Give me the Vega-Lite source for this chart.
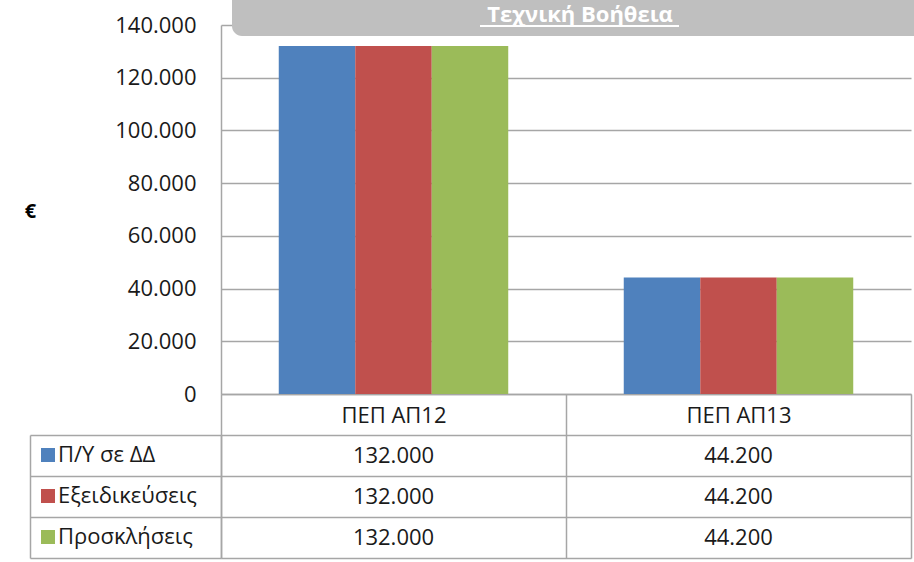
{
  "$schema": "https://vega.github.io/schema/vega-lite/v6.json",
  "autosize": {"type": "none"},
  "padding": {"left": 221, "top": 25, "right": 693, "bottom": 537},
  "background": "white",
  "datasets": {
    "budget": [
      {"cat": "ΠΕΠ ΑΠ12", "series": "Π/Υ σε ΔΔ", "value": 132000},
      {"cat": "ΠΕΠ ΑΠ12", "series": "Εξειδικεύσεις", "value": 132000},
      {"cat": "ΠΕΠ ΑΠ12", "series": "Προσκλήσεις", "value": 132000},
      {"cat": "ΠΕΠ ΑΠ13", "series": "Π/Υ σε ΔΔ", "value": 44200},
      {"cat": "ΠΕΠ ΑΠ13", "series": "Εξειδικεύσεις", "value": 44200},
      {"cat": "ΠΕΠ ΑΠ13", "series": "Προσκλήσεις", "value": 44200}
    ],
    "heading": [{"title": "Τεχνική Βοήθεια"}]
  },
  "config": {
    "view": {"stroke": null},
    "locale": {"number": {"decimal": ",", "thousands": ".", "grouping": [3], "currency": ["", " €"]}},
    "axis": {"labelFont": "Open Sans", "titleFont": "Open Sans", "domainColor": "#a6a6a6", "gridColor": "#a6a6a6", "tickColor": "#a6a6a6", "labelColor": "#000000", "domainWidth": 1.5, "gridWidth": 1.5, "tickWidth": 1.5},
    "legend": {"labelFont": "Open Sans"},
    "text": {"font": "Open Sans"}
  },
  "resolve": {"legend": {"color": "independent"}},
  "spacing": 41,
  "bounds": "flush",
  "vconcat": [
    {
      "width": 690,
      "height": 369,
      "layer": [
        {
          "data": {"name": "budget"},
          "mark": {"type": "bar"},
          "encoding": {
            "x": {
              "field": "cat", "type": "nominal", "sort": ["ΠΕΠ ΑΠ12", "ΠΕΠ ΑΠ13"],
              "scale": {"paddingInner": 0, "paddingOuter": 0},
              "axis": {"title": null, "domain": true, "ticks": true, "tickBand": "extent", "tickSize": 41, "labelAngle": 0, "labelFontSize": 22, "labelBaseline": "middle", "labelPadding": -20, "grid": false, "labelColor": "#1a1a1a"}
            },
            "xOffset": {
              "field": "series", "type": "nominal", "sort": ["Π/Υ σε ΔΔ", "Εξειδικεύσεις", "Προσκλήσεις"],
              "scale": {"paddingInner": 0, "paddingOuter": 0.755}
            },
            "y": {
              "field": "value", "type": "quantitative",
              "scale": {"domain": [0, 140000], "nice": false},
              "axis": {"values": [0, 20000, 40000, 60000, 80000, 100000, 120000, 140000], "format": ",d", "ticks": false, "labelPadding": 25, "labelFontSize": 22, "labelColor": "#1a1a1a", "title": "€", "titleAngle": 0, "titleFontSize": 20, "titleFontWeight": "bold", "titleColor": "#000000", "titleX": -191, "titleY": 186, "titleAlign": "center", "titleBaseline": "middle", "grid": true}
            },
            "color": {
              "field": "series", "type": "nominal",
              "scale": {"domain": ["Π/Υ σε ΔΔ", "Εξειδικεύσεις", "Προσκλήσεις"], "range": ["#4f81bd", "#c0504d", "#9bbb59"]},
              "legend": null
            }
          }
        },
        {
          "data": {"name": "heading"},
          "mark": {"type": "rect", "color": "#bfbfbf", "cornerRadiusBottomLeft": 10, "xOffset": 11, "x2Offset": 348, "yOffset": 11, "y2Offset": -25},
          "encoding": {
            "x": {"datum": "ΠΕΠ ΑΠ12", "type": "nominal", "bandPosition": 0},
            "x2": {"datum": "ΠΕΠ ΑΠ13", "bandPosition": 0},
            "y": {"datum": 140000, "type": "quantitative"},
            "y2": {"datum": 140000}
          }
        },
        {
          "data": {"name": "heading"},
          "mark": {"type": "text", "color": "#ffffff", "fontSize": 22, "fontWeight": "bold", "dx": 14, "yOffset": -10, "baseline": "middle", "align": "center"},
          "encoding": {
            "text": {"field": "title", "type": "nominal"},
            "y": {"datum": 140000, "type": "quantitative"}
          }
        },
        {
          "data": {"name": "heading"},
          "mark": {"type": "rule", "color": "#ffffff", "strokeWidth": 2, "xOffset": 259, "x2Offset": 113, "yOffset": 1},
          "encoding": {
            "x": {"datum": "ΠΕΠ ΑΠ12", "type": "nominal", "bandPosition": 0},
            "x2": {"datum": "ΠΕΠ ΑΠ13", "bandPosition": 0},
            "y": {"datum": 140000, "type": "quantitative"}
          }
        }
      ]
    },
    {
      "width": 690,
      "height": 123,
      "data": {"name": "budget"},
      "resolve": {"axis": {"y": "independent"}},
      "layer": [
        {
          "mark": {"type": "text", "fontSize": 22, "color": "#1a1a1a", "baseline": "middle", "align": "center"},
          "encoding": {
            "x": {
              "field": "cat", "type": "nominal", "sort": ["ΠΕΠ ΑΠ12", "ΠΕΠ ΑΠ13"],
              "scale": {"paddingInner": 0, "paddingOuter": 0},
              "axis": {"orient": "bottom", "title": null, "labels": false, "domain": false, "ticks": false, "grid": true, "tickBand": "extent"}
            },
            "y": {
              "field": "series", "type": "nominal", "sort": ["Π/Υ σε ΔΔ", "Εξειδικεύσεις", "Προσκλήσεις"],
              "scale": {"paddingInner": 0, "paddingOuter": 0},
              "axis": {"orient": "left", "title": null, "labels": false, "domain": true, "ticks": true, "tickBand": "extent", "tickSize": 191, "grid": true}
            },
            "text": {"field": "value", "type": "quantitative", "format": ",d"}
          }
        },
        {
          "mark": {"type": "square", "opacity": 0},
          "encoding": {
            "x": {"field": "cat", "type": "nominal", "sort": ["ΠΕΠ ΑΠ12", "ΠΕΠ ΑΠ13"]},
            "y": {
              "field": "series", "type": "nominal", "sort": ["Π/Υ σε ΔΔ", "Εξειδικεύσεις", "Προσκλήσεις"],
              "axis": {"orient": "right", "offset": -881, "title": null, "labels": false, "ticks": false, "grid": false, "domain": true}
            },
            "color": {
              "field": "series", "type": "nominal",
              "scale": {"domain": ["Π/Υ σε ΔΔ", "Εξειδικεύσεις", "Προσκλήσεις"], "range": ["#4f81bd", "#c0504d", "#9bbb59"]},
              "legend": {"orient": "none", "legendX": -184, "legendY": 9, "title": null, "symbolType": "square", "symbolSize": 196, "symbolStrokeWidth": 0, "symbolOpacity": 1, "labelFontSize": 22, "labelColor": "#1a1a1a", "labelOffset": -1, "rowPadding": 19, "padding": 0, "labelLimit": 300}
            }
          }
        }
      ]
    }
  ]
}
